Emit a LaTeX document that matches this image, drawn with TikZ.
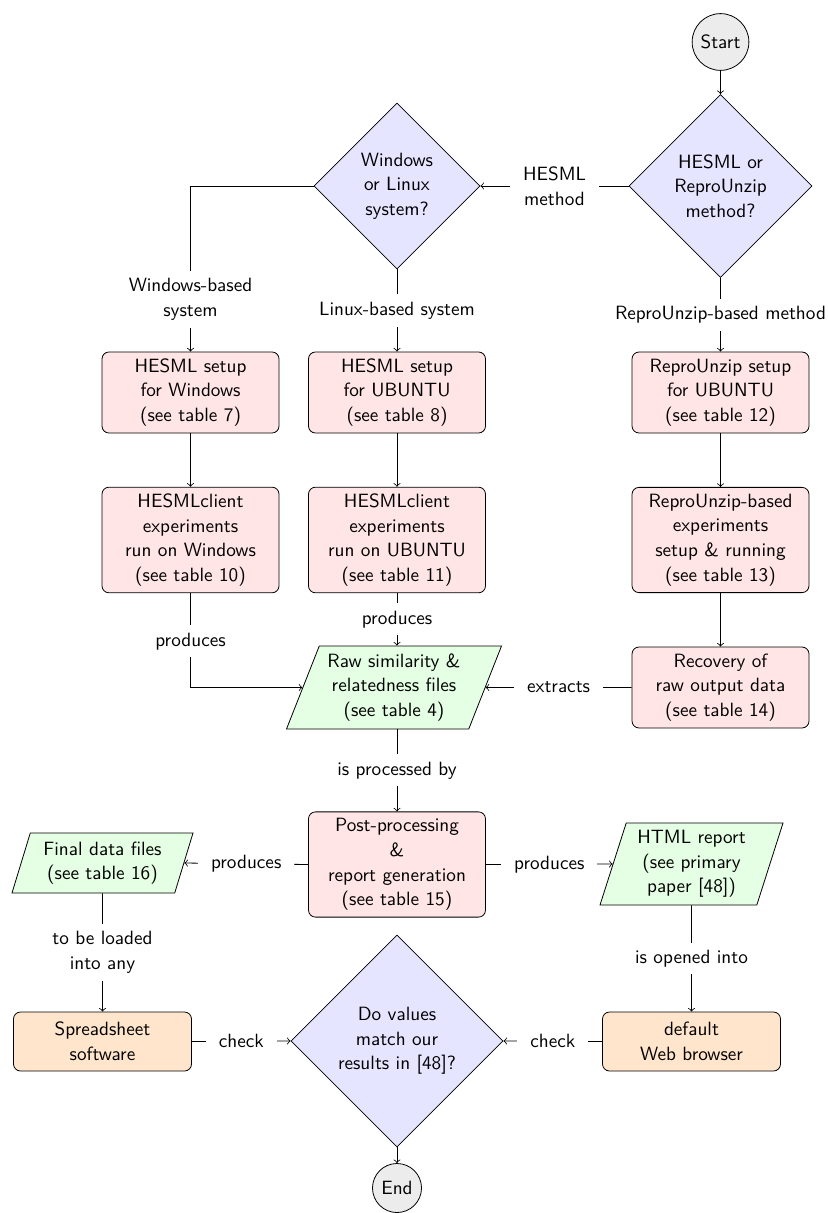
\documentclass[tikz,border=0pt]{standalone}
\usetikzlibrary{shapes.geometric}
\begin{document}
\begin{tikzpicture}[x=0.5pt,y=-0.5pt,font=\sffamily\fontsize{9.6}{12.3}\selectfont,
  proc/.style={draw, rounded corners=3.5pt, fill=red!10, align=center, minimum width=88.5pt, minimum height=40.5pt},
  tall/.style={minimum height=52.5pt},
  extbox/.style={draw, rounded corners=3.5pt, fill=orange!20, align=center, minimum width=89pt, minimum height=29.5pt},
  decision/.style={diamond, draw, fill=blue!10, aspect=1, align=center, inner sep=0pt},
  io/.style={trapezium, draw, fill=green!10, align=center, trapezium stretches body},
  term/.style={circle, draw, fill=gray!15, inner sep=2.8pt},
  lbl/.style={fill=white, align=center, inner xsep=6.5pt, inner ysep=3.7pt},
  arr/.style={->}]
\useasboundingbox (0,0) rectangle (827,1213);

\node[term] (start) at (720.5,42) {Start};
\node[decision, minimum width=91.5pt, minimum height=91.5pt] (d1) at (720.5,186) {HESML or\\ReproUnzip\\method?};
\node[decision, minimum width=83pt, minimum height=83pt] (d2) at (397,186) {Windows\\or Linux\\system?};
\node[proc] (w1) at (190.5,392.5) {HESML setup\\for Windows\\(see table 7)};
\node[proc] (l1) at (397,392.5) {HESML setup\\for UBUNTU\\(see table 8)};
\node[proc] (r1) at (720.5,392.5) {ReproUnzip setup\\for UBUNTU\\(see table 12)};
\node[proc, tall] (w2) at (190.5,540) {HESMLclient\\experiments\\run on Windows\\(see table 10)};
\node[proc, tall] (l2) at (397,540) {HESMLclient\\experiments\\run on UBUNTU\\(see table 11)};
\node[proc, tall] (r2) at (720.5,540) {ReproUnzip-based\\experiments\\setup \& running\\(see table 13)};
\node[io, trapezium left angle=68, trapezium right angle=112, minimum height=41.5pt, minimum width=107.5pt] (raw) at (394,687.5) {Raw similarity \&\\relatedness files\\(see table 4)};
\node[proc] (r3) at (720.5,687.5) {Recovery of\\raw output data\\(see table 14)};
\node[proc, tall] (post) at (397,864.5) {Post-processing\\\&\\report generation\\(see table 15)};
\node[io, trapezium left angle=72, trapezium right angle=108, minimum height=30pt, minimum width=90.5pt] (final) at (102.5,863) {Final data files\\(see table 16)};
\node[io, trapezium left angle=72, trapezium right angle=108, minimum height=41pt, minimum width=91.5pt] (html) at (691.5,864) {HTML report\\(see primary\\paper [48])};
\node[extbox] (sheet) at (102.5,1041.5) {Spreadsheet\\software};
\node[extbox] (web) at (691.5,1041.5) {default\\Web browser};
\node[decision, minimum width=106pt, minimum height=106pt] (d3) at (397,1041) {Do values\\match our\\results in [48]?};
\node[term] (end) at (397,1188) {End};

\draw[arr] (start) -- (d1);
\draw[arr] (d1.west) -- node[lbl] {HESML\\method} (d2.east);
\draw[arr] (d2.west) -| node[lbl, pos=0.843] {Windows-based\\system} (w1.north);
\draw[arr] (d2.south) -- node[lbl] {Linux-based system} (l1.north);
\draw[arr] (d1.south) -- node[lbl] {ReproUnzip-based method} (r1.north);
\draw[arr] (w1) -- (w2);
\draw[arr] (l1) -- (l2);
\draw[arr] (r1) -- (r2);
\draw[arr] (r2) -- (r3);
\draw[arr] (w2.south) |- node[lbl, pos=0.255] {produces} (raw.west);
\draw[arr] (l2.south) -- node[lbl] {produces} (l2.south |- raw.north);
\draw[arr] (r3.west) -- node[lbl] {extracts} (raw.east);
\draw[arr] (raw.south -| post.north) -- node[lbl] {is processed by} (post.north);
\draw[arr] (post.west) -- node[lbl] {produces} (final.east);
\draw[arr] (post.east) -- node[lbl] {produces} (html.west);
\draw[arr] (final.south) -- node[lbl] {to be loaded\\into any} (sheet.north);
\draw[arr] (html.south) -- node[lbl] {is opened into} (web.north);
\draw[arr] (sheet.east) -- node[lbl] {check} (d3.west);
\draw[arr] (web.west) -- node[lbl] {check} (d3.east);
\draw[arr] (d3) -- (end);
\end{tikzpicture}
\end{document}
